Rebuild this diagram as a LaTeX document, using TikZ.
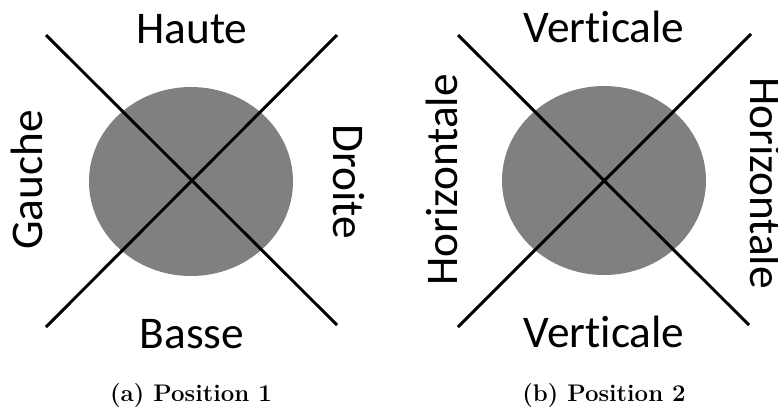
\documentclass[tikz,border=0pt]{standalone}
\usepackage{fontspec}
\newfontfamily\lblfont[Ligatures={NoCommon,NoDiscretionary}]{Carlito}
\begin{document}
\begin{tikzpicture}[x=0.75pt,y=-0.75pt,
  lbl/.style={font=\lblfont\fontsize{34pt}{40pt}\selectfont, inner sep=0pt, anchor=base},
  captext/.style={font=\rmfamily\bfseries\fontsize{18pt}{22pt}\selectfont, inner sep=0pt, anchor=base},
  xline/.style={line width=2.2pt, black},
  disc/.style={fill={rgb,255:red,128;green,128;blue,128}}]
\useasboundingbox (0,0) rectangle (778,408);
% Panel (a)
\fill[disc] (191,181.5) ellipse [x radius=102, y radius=94.5];
\coordinate (a1) at (46,35);
\coordinate (a2) at (337,325);
\coordinate (a3) at (337,35);
\coordinate (a4) at (46,327);
\draw[xline] (a1) -- (a2);
\draw[xline] (a3) -- (a4);
\node[lbl] (haute) at (192,43) {Haute};
\node[lbl] (basse) at (192,348) {Basse};
\node[lbl, rotate=90] (gauche) at (42,180) {Gauche};
\node[lbl, rotate=-90] (droite) at (333,182) {Droite};
\node[captext] (capa) at (191,401) {(a) Position 1};
% Panel (b)
\fill[disc] (604,180.5) ellipse [x radius=102, y radius=94.5];
\coordinate (b1) at (458,35);
\coordinate (b2) at (749,325);
\coordinate (b3) at (751,34);
\coordinate (b4) at (458,327);
\draw[xline] (b1) -- (b2);
\draw[xline] (b3) -- (b4);
\node[lbl] (verta) at (604,42) {Verticale};
\node[lbl] (vertb) at (604,347) {Verticale};
\node[lbl, rotate=90] (horl) at (457,180) {Horizontale};
\node[lbl, rotate=-90] (horr) at (750,183) {Horizontale};
\node[captext] (capb) at (604,401) {(b) Position 2};
\end{tikzpicture}
\end{document}
